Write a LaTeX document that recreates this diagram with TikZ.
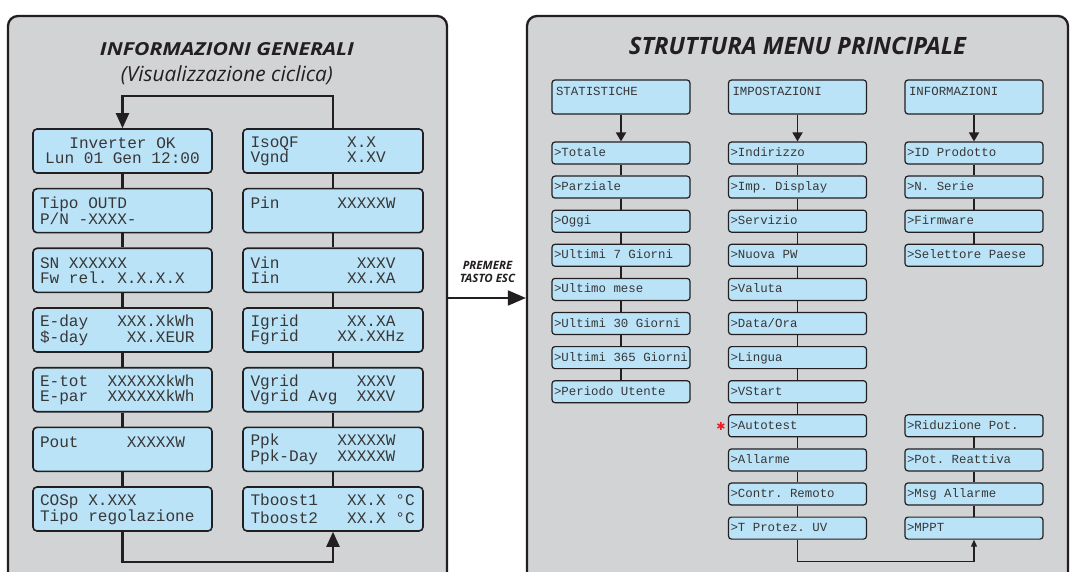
\documentclass[tikz,border=0pt]{standalone}
\usepackage{fontspec}
\setmainfont{PT Sans}
\newfontfamily\titlefont{Open Sans}
\newfontfamily\lcdfont{Liberation Mono}
\newfontfamily\symfont{DejaVu Sans}
\usetikzlibrary{arrows.meta}
\definecolor{panelgray}{RGB}{209,211,212}
\definecolor{lcdblue}{RGB}{187,227,248}
\definecolor{ink}{RGB}{35,31,32}
\definecolor{lcdtext}{RGB}{55,55,55}
\definecolor{starred}{RGB}{237,28,36}
\newcommand\lcdsetup{\frenchspacing\spaceskip\fontcharwd\font`X\relax\xspaceskip\spaceskip}
\newcommand\twolines[2]{\lcdsetup\rule{0pt}{12pt}#1\\#2\rule[-1pt]{0pt}{1pt}}
\begin{document}
\begin{tikzpicture}[x=1pt,y=-1pt,
  panel/.style={draw=ink, line width=2.3pt, fill=panelgray, rounded corners=10pt, inner sep=0pt, minimum height=584pt},
  lbox/.style={draw=ink, line width=1.6pt, fill=lcdblue, rounded corners=4pt, minimum height=44pt, inner sep=0pt, text width=165pt, align=left, font=\lcdfont\fontsize{16.1}{15}\selectfont, text=lcdtext},
  lboxl/.style={lbox, minimum width=179pt},
  lboxr/.style={lbox, minimum width=180pt},
  lconn/.style={draw=ink, line width=2.2pt},
  larrow/.style={lconn, -{Triangle[width=13pt,length=15pt]}},
  ritem/.style={draw=ink, line width=1.2pt, fill=lcdblue, rounded corners=3pt, minimum width=138pt, minimum height=22pt, inner sep=0pt, text width=134pt, align=left, text height=10pt, text depth=3pt, font=\lcdfont\fontsize{12.4}{14}\selectfont, text=lcdtext, execute at begin node=\lcdsetup},
  rhead/.style={ritem, minimum height=34pt, text height=10pt, text depth=12pt, text width=130pt},
  rconn/.style={draw=ink, line width=1.2pt},
  rarrow/.style={draw=ink, line width=1.8pt, -{Triangle[width=10pt,length=9pt]}},
  titletext/.style={font=\titlefont\bfseries\itshape, text=ink, inner sep=0pt},
]
\useasboundingbox (0,0) rectangle (1079,572);
\fill[white] (0,0) rectangle (1079,572);

% panels
\node[panel, minimum width=439pt] (LP) at (227.5,308) {};
\node[panel, minimum width=541pt] (RP) at (797.5,308) {};

% left panel titles
\node[titletext] (T1) at (227,49.3) {\resizebox{254pt}{13pt}{INFORMAZIONI GENERALI}};
\node[font=\titlefont\itshape, text=ink, inner sep=0pt] (T2) at (227,75.5) {\resizebox{212pt}{!}{(Visualizzazione ciclica)}};

% left column
\node[lboxl, align=center] (L1) at (122.5,151) {\twolines{Inverter OK}{Lun 01 Gen 12:00}};
\node[lboxl] (L2) at (122.5,210.7) {\twolines{Tipo OUTD}{P/N -XXXX-}};
\node[lboxl] (L3) at (122.5,270.3) {\twolines{SN XXXXXX}{Fw rel. X.X.X.X}};
\node[lboxl] (L4) at (122.5,330) {\twolines{E-day~~~XXX.XkWh}{\$-day~~~~XX.XEUR}};
\node[lboxl] (L5) at (122.5,389.7) {\twolines{E-tot~~XXXXXXkWh}{E-par~~XXXXXXkWh}};
\node[lboxl] (L6) at (122.5,449.3) {\twolines{Pout~~~~~XXXXXW}{\phantom{X}}};
\node[lboxl] (L7) at (122.5,509) {\twolines{COSp X.XXX}{Tipo regolazione}};

% right column
\node[lboxr] (R1) at (333,151) {\twolines{IsoQF~~~~~X.X}{Vgnd~~~~~~X.XV}};
\node[lboxr] (R2) at (333,210.7) {\twolines{Pin~~~~~~XXXXXW}{\phantom{X}}};
\node[lboxr] (R3) at (333,270.3) {\twolines{Vin~~~~~~~~XXXV}{Iin~~~~~~~XX.XA}};
\node[lboxr] (R4) at (333,330) {\twolines{Igrid~~~~~XX.XA}{Fgrid~~~~XX.XXHz}};
\node[lboxr] (R5) at (333,389.7) {\twolines{Vgrid~~~~~~XXXV}{Vgrid Avg~~XXXV}};
\node[lboxr] (R6) at (333,449.3) {\twolines{Ppk~~~~~~XXXXXW}{Ppk-Day~~XXXXXW}};
\node[lboxr, font=\lcdfont\fontsize{16.1}{18}\selectfont] (R7) at (333,509) {\twolines{Tboost1~~~XX.X °C}{Tboost2~~~XX.X °C}};

% left connectors
\foreach \a/\b in {L1/L2,L2/L3,L3/L4,L4/L5,L5/L6,L6/L7,R1/R2,R2/R3,R3/R4,R4/R5,R5/R6,R6/R7}
  \draw[lconn] (\a) -- (\b);
\draw[larrow] (R1.north) -- ++(0,-32) -| (L1.north);
\draw[larrow] (L7.south) -- ++(0,30) -| (R7.south);

% ESC arrow
\draw[draw=ink, line width=2pt, -{Triangle[width=15pt,length=18pt]}] ([yshift=10pt]LP.east) -- ([yshift=10pt]RP.west);
\node[font=\titlefont\fontsize{11.5}{12.6}\selectfont\bfseries\itshape, text=ink, align=center, inner sep=0pt] (ESC) at (487.5,272) {PREMERE\\TASTO ESC};

% right panel title
\node[titletext] (T3) at (797.5,46.3) {\resizebox{337pt}{17.3pt}{STRUTTURA MENU PRINCIPALE}};

% headers
\node[rhead] (SH) at (621,97) {STATISTICHE};
\node[rhead] (IH) at (797.5,97) {IMPOSTAZIONI};
\node[rhead] (NH) at (974,97) {INFORMAZIONI};

% column 1
\node[ritem] (S1) at (621,{153+34.1*0}) {>Totale};
\node[ritem] (S2) at (621,{153+34.1*1}) {>Parziale};
\node[ritem] (S3) at (621,{153+34.1*2}) {>Oggi};
\node[ritem] (S4) at (621,{153+34.1*3}) {>Ultimi 7 Giorni};
\node[ritem] (S5) at (621,{153+34.1*4}) {>Ultimo mese};
\node[ritem] (S6) at (621,{153+34.1*5}) {>Ultimi 30 Giorni};
\node[ritem] (S7) at (621,{153+34.1*6}) {>Ultimi 365 Giorni};
\node[ritem] (S8) at (621,{153+34.1*7}) {>Periodo Utente};

% column 2
\node[ritem] (I1) at (797.5,{153+34.1*0}) {>Indirizzo};
\node[ritem] (I2) at (797.5,{153+34.1*1}) {>Imp. Display};
\node[ritem] (I3) at (797.5,{153+34.1*2}) {>Servizio};
\node[ritem] (I4) at (797.5,{153+34.1*3}) {>Nuova PW};
\node[ritem] (I5) at (797.5,{153+34.1*4}) {>Valuta};
\node[ritem] (I6) at (797.5,{153+34.1*5}) {>Data/Ora};
\node[ritem] (I7) at (797.5,{153+34.1*6}) {>Lingua};
\node[ritem] (I8) at (797.5,{153+34.1*7}) {>VStart};
\node[ritem] (I9) at (797.5,{153+34.1*8}) {>Autotest};
\node[ritem] (I10) at (797.5,{153+34.1*9}) {>Allarme};
\node[ritem] (I11) at (797.5,{153+34.1*10}) {>Contr. Remoto};
\node[ritem] (I12) at (797.5,{153+34.1*11}) {>T Protez. UV};

% column 3
\node[ritem] (N1) at (974,{153+34.1*0}) {>ID Prodotto};
\node[ritem] (N2) at (974,{153+34.1*1}) {>N. Serie};
\node[ritem] (N3) at (974,{153+34.1*2}) {>Firmware};
\node[ritem] (N4) at (974,{153+34.1*3}) {>Selettore Paese};
\node[ritem] (N9) at (974,{153+34.1*8}) {>Riduzione Pot.};
\node[ritem] (N10) at (974,{153+34.1*9}) {>Pot. Reattiva};
\node[ritem] (N11) at (974,{153+34.1*10}) {>Msg Allarme};
\node[ritem] (N12) at (974,{153+34.1*11}) {>MPPT};

% red asterisk
\node[text=starred, font=\symfont\fontsize{11}{11}\selectfont, inner sep=0pt] (STAR) at (721,426.5) {✱};

% right connectors
\draw[rarrow] (SH) -- (S1);
\draw[rarrow] (IH) -- (I1);
\draw[rarrow] (NH) -- (N1);
\foreach \a/\b in {S1/S2,S2/S3,S3/S4,S4/S5,S5/S6,S6/S7,S7/S8,
  I1/I2,I2/I3,I3/I4,I4/I5,I5/I6,I6/I7,I7/I8,I8/I9,I9/I10,I10/I11,I11/I12,
  N1/N2,N2/N3,N3/N4,N9/N10,N10/N11,N11/N12}
  \draw[rconn] (\a) -- (\b);
\draw[rconn, -{Triangle[width=6pt,length=7pt]}] (I12.south) -- ++(0,22) -| (N12.south);
\end{tikzpicture}
\end{document}
